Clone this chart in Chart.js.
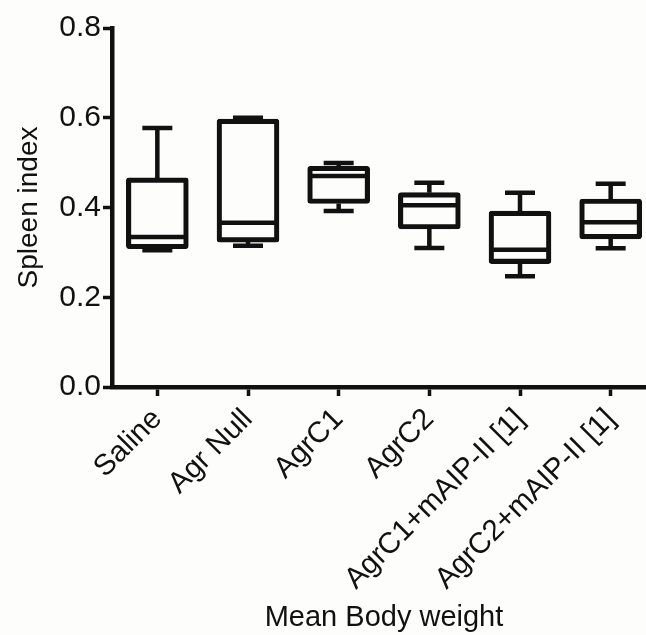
<!DOCTYPE html>
<html>
<head>
<meta charset="utf-8">
<script src="https://cdn.jsdelivr.net/npm/chart.js@4"></script>
<style>
  html, body { margin: 0; padding: 0; background: #fdfdfc; overflow: hidden; }
  #wrap { width: 670px; height: 635px; }
</style>
</head>
<body>
<div id="wrap"><canvas id="spleenChart"></canvas></div>
<script>
var categories = ['Saline', 'Agr Null', 'AgrC1', 'AgrC2', 'AgrC1+mAIP-II [1]', 'AgrC2+mAIP-II [1]'];
var minVals = [0.305, 0.315, 0.392, 0.310, 0.247, 0.309];
var q1Vals = [0.308, 0.323, 0.409, 0.352, 0.275, 0.330];
var medianVals = [0.334, 0.366, 0.470, 0.405, 0.306, 0.367];
var q3Vals = [0.466, 0.597, 0.492, 0.433, 0.392, 0.419];
var maxVals = [0.577, 0.600, 0.499, 0.455, 0.433, 0.453];
var yTicks = [0, 0.2, 0.4, 0.6, 0.8];

var fontFamily = '"Liberation Sans", Arial, sans-serif';

// whiskers and medians drawn on top of the floating bars
var whiskerPlugin = {
  id: 'whiskers',
  afterDatasetsDraw: function (chart) {
    var ctx = chart.ctx;
    var x = chart.scales.x;
    var y = chart.scales.y;
    var boxHalf = 29;
    var capHalf = 15;
    ctx.save();
    ctx.strokeStyle = '#111';
    ctx.lineWidth = 4.5;
    ctx.lineCap = 'butt';
    categories.forEach(function (c, i) {
      var cx = x.getPixelForValue(i);
      var yMin = y.getPixelForValue(minVals[i]);
      var yQ1 = y.getPixelForValue(q1Vals[i]);
      var yMed = y.getPixelForValue(medianVals[i]);
      var yQ3 = y.getPixelForValue(q3Vals[i]);
      var yMax = y.getPixelForValue(maxVals[i]);
      ctx.beginPath();
      ctx.moveTo(cx, yQ3); ctx.lineTo(cx, yMax);
      ctx.moveTo(cx - capHalf, yMax); ctx.lineTo(cx + capHalf, yMax);
      ctx.moveTo(cx, yQ1); ctx.lineTo(cx, yMin);
      ctx.moveTo(cx - capHalf, yMin); ctx.lineTo(cx + capHalf, yMin);
      ctx.moveTo(cx - boxHalf + 2, yMed); ctx.lineTo(cx + boxHalf - 2, yMed);
      ctx.stroke();
    });
    ctx.restore();
  }
};

var config = {
  type: 'bar',
  data: {
    labels: categories,
    datasets: [
      {
        label: 'Spleen index',
        data: categories.map(function (c, i) { return [q1Vals[i], q3Vals[i]]; }),
        backgroundColor: 'rgba(0,0,0,0)',
        borderColor: '#111',
        borderWidth: 4.5,
        borderSkipped: false,
        borderRadius: 3,
        barThickness: 62,
      },
    ],
  },
  options: {
    responsive: true,
    maintainAspectRatio: false,
    animation: false,
    layout: { padding: { top: 28, right: 14, left: 0, bottom: 0 } },
    plugins: {
      legend: { display: false },
      tooltip: { enabled: false },
    },
    scales: {
      x: {
        grid: {
          offset: false,
          drawOnChartArea: false,
          drawTicks: true,
          tickLength: 9,
          tickWidth: 3.5,
          tickColor: '#111',
        },
        border: { color: '#111', width: 4.5 },
        ticks: {
          color: '#111',
          font: { family: fontFamily, size: 29.5 },
          minRotation: 45,
          maxRotation: 45,
          padding: 6,
        },
        title: {
          display: true,
          text: 'Mean Body weight',
          color: '#111',
          font: { family: fontFamily, size: 29 },
          padding: { top: 0, bottom: 0 },
        },
        afterFit: function (scale) { scale.height = 248; },
      },
      y: {
        min: 0,
        max: 0.8,
        afterBuildTicks: function (scale) {
          scale.ticks = yTicks.map(function (v) { return { value: v }; });
        },
        grid: {
          drawOnChartArea: false,
          drawTicks: true,
          tickLength: 9,
          tickWidth: 3.5,
          tickColor: '#111',
        },
        border: { color: '#111', width: 4.5 },
        ticks: {
          color: '#111',
          font: { family: fontFamily, size: 30 },
          padding: 2,
          callback: function (v) { return v.toFixed(1); },
        },
        title: {
          display: true,
          text: 'Spleen index',
          color: '#111',
          font: { family: fontFamily, size: 28 },
          padding: { top: 12, bottom: 0 },
        },
        afterFit: function (scale) { scale.width = 112; },
      },
    },
  },
  plugins: [whiskerPlugin],
};

var spleenChart = new Chart(document.getElementById('spleenChart'), config);
</script>
</body>
</html>
